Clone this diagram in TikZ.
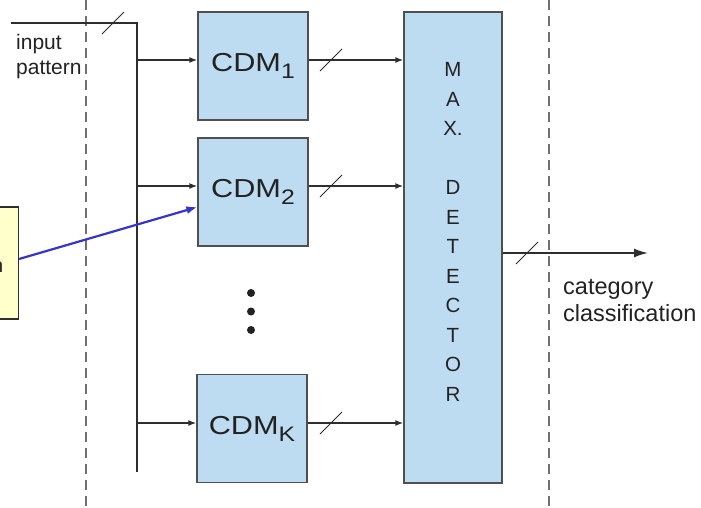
\documentclass[tikz,border=0pt]{standalone}
\usepackage{fontspec}
\setmainfont{Liberation Sans}
\newfontfamily\cdmfont[FakeStretch=1.18]{Liberation Sans}
\usetikzlibrary{arrows.meta}
\definecolor{boxblue}{HTML}{BDDCF1}
\definecolor{boxedge}{HTML}{505050}
\definecolor{linegray}{HTML}{2E2E2E}
\definecolor{dashgray}{HTML}{707070}
\definecolor{textgray}{HTML}{222222}
\definecolor{noteyellow}{HTML}{FFFFCC}
\definecolor{notearrow}{HTML}{3535C8}
\tikzset{
  cdmbox/.style={draw=boxedge, fill=boxblue, line width=1.2pt, minimum width=110pt,
    minimum height=108pt, inner sep=0pt, text=textgray,
    font=\cdmfont\fontsize{26}{26}\selectfont},
  wire/.style={draw=linegray, line width=1.8pt},
  sig/.style={wire, -{Latex[length=8pt,width=6pt]}},
  bigsig/.style={wire, -{Latex[length=14pt,width=9pt]}},
  slashline/.style={draw=linegray, line width=1pt},
  dashsep/.style={draw=dashgray, line width=1.5pt, dash pattern=on 10pt off 6pt},
  lbl/.style={inner sep=0pt, text=textgray, align=left}
}
\begin{document}
\begin{tikzpicture}[x=1pt,y=-1pt]
\clip (0,0) rectangle (701,507);
\fill[white] (0,0) rectangle (701,507);

% separators
\draw[dashsep] (86,0) -- (86,507);
\draw[dashsep] (549,0) -- (549,507);

% boxes
\node[cdmbox] (cdm1) at (253,66) {CDM\raisebox{-7pt}{\fontsize{21}{21}\selectfont 1}\hspace{6pt}};
\node[cdmbox] (cdm2) at (253,192) {CDM\raisebox{-7pt}{\fontsize{21}{21}\selectfont 2}\hspace{6pt}};
\node[cdmbox] (cdmk) at (252,428.5) {CDM\raisebox{-7pt}{\fontsize{21}{21}\selectfont K}\hspace{6pt}};
\node[draw=boxedge, fill=boxblue, line width=1.2pt, minimum width=98pt,
      minimum height=471pt, inner sep=0pt] (maxdet) at (453,247.5) {};
\node[inner sep=0pt, align=center, text=textgray,
      font=\fontsize{20.5}{29.5}\selectfont] (maxlbl) at (453,232)
  {M\\A\\X.\\[29.5pt]D\\E\\T\\E\\C\\T\\O\\R};

% dots
\fill[textgray] (251,293) circle (4pt);
\fill[textgray] (251,311.5) circle (4pt);
\fill[textgray] (251,330) circle (4pt);

% anchor points
\coordinate (i1) at ([yshift=6pt]cdm1.west);
\coordinate (i2) at ([yshift=6pt]cdm2.west);
\coordinate (ik) at ([yshift=5.5pt]cdmk.west);
\coordinate (o1) at ([yshift=6pt]cdm1.east);
\coordinate (o2) at ([yshift=6pt]cdm2.east);
\coordinate (ok) at ([yshift=5.5pt]cdmk.east);

% input bus
\coordinate (inL) at (11,23);
\coordinate (busTop) at (137,23);
\coordinate (busBot) at (137,472);
\draw[wire] (inL) -- (busTop) -- (busBot);
\draw[sig] (busTop |- i1) -- (i1);
\draw[sig] (busTop |- i2) -- (i2);
\draw[sig] (busTop |- ik) -- (ik);

% outputs to max detector
\draw[sig] (o1) -- (maxdet.west |- o1);
\draw[sig] (o2) -- (maxdet.west |- o2);
\draw[sig] (ok) -- (maxdet.west |- ok);

% final output
\coordinate (outEnd) at (648,253);
\draw[bigsig] (maxdet.east |- outEnd) -- (outEnd);

% bus slashes
\coordinate (s0) at (113,23);
\coordinate (s1) at (331,60);
\coordinate (s2) at (331,186);
\coordinate (s3) at (331,423);
\coordinate (s4) at (527,253);
\foreach \s in {s0,s1,s2,s3,s4}
  \draw[slashline] (\s) ++(-11,11) -- ++(22,-22);

% labels
\node[lbl, anchor=north west, font=\fontsize{21}{25}\selectfont] (inlbl) at (16,34) {input\\pattern};
\node[lbl, anchor=north west, font=\fontsize{23.5}{27}\selectfont] (outlbl) at (563,279) {category\\classification};

% note box (cut by the left edge)
\node[draw=linegray, fill=noteyellow, line width=1.3pt, minimum width=60pt,
      minimum height=112pt, anchor=east, inner sep=0pt] (note) at (19,263) {};
\node[inner sep=0pt, anchor=base east, text=textgray, font=\fontsize{20}{20}\selectfont]
  (notetxt) at (3.5,272) {n};
\coordinate (nstart) at ([yshift=4pt]note.east);
\coordinate (nend) at ([yshift=-15pt]cdm2.west);
\draw[notearrow, line width=2.2pt, -{Latex[length=11pt,width=8pt]}] (nstart) -- (nend);
\end{tikzpicture}
\end{document}
